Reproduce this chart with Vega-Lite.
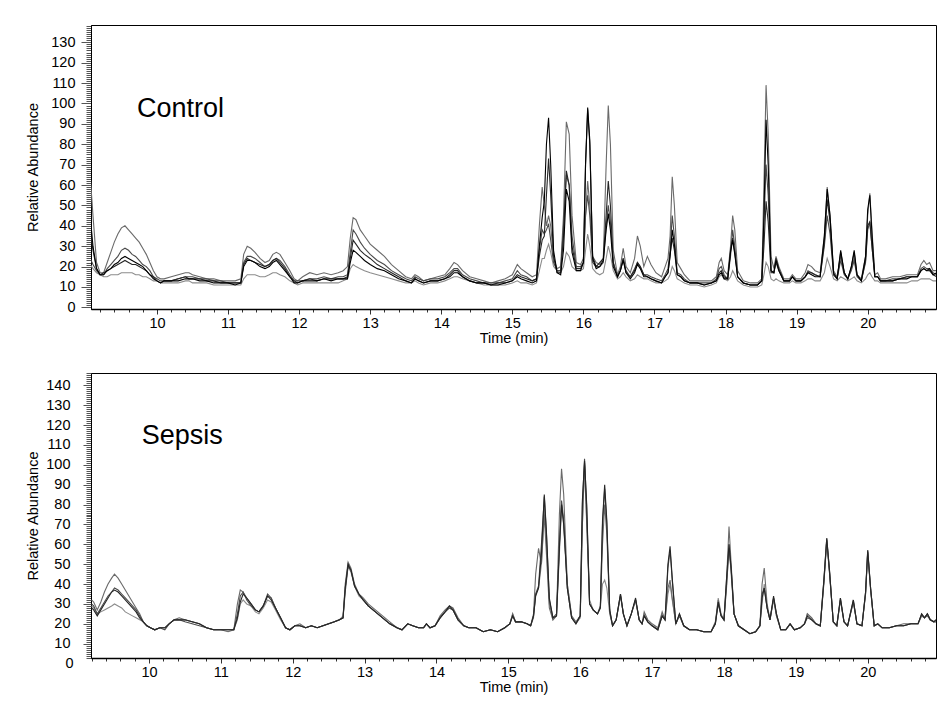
{
"$schema": "https://vega.github.io/schema/vega-lite/v6.json",
"background": "white",
"padding": {"left": 25, "top": 17, "right": 5, "bottom": 5},
"spacing": 18,
"columns": 1,
"align": "none",
"config": {
  "font": "Liberation Sans",
  "view": {"stroke": "#000", "strokeWidth": 1},
  "axis": {"domainColor": "#000", "labelColor": "#000", "titleColor": "#000", "labelFontSize": 14.5, "titleFontSize": 14.5, "titleFontWeight": "normal", "grid": false, "labelOverlap": false, "labelFlush": false, "tickColor": "#333"}
},
"concat": [
{
  "width": 845, "height": 284,
  "layer": [
    {
      "data": {"values": [
{"t":9.03,"a":23,"b":81,"c":26,"d":47,"e":60},
{"t":9.06,"a":21,"b":65,"c":24,"d":38,"e":45},
{"t":9.10,"a":19,"b":45,"c":21,"d":28,"e":30},
{"t":9.15,"a":17,"b":22,"c":18,"d":19,"e":19},
{"t":9.20,"a":16,"b":17,"c":16,"d":16,"e":16},
{"t":9.25,"a":15,"b":17,"c":16,"d":17,"e":16},
{"t":9.30,"a":15,"b":22,"c":19,"d":18,"e":18},
{"t":9.35,"a":16,"b":27,"c":21,"d":19,"e":19},
{"t":9.40,"a":16,"b":32,"c":23,"d":20,"e":21},
{"t":9.45,"a":16,"b":36,"c":25,"d":21,"e":22},
{"t":9.50,"a":17,"b":39,"c":28,"d":22,"e":24},
{"t":9.55,"a":17,"b":40,"c":29,"d":23,"e":25},
{"t":9.60,"a":17,"b":38,"c":28,"d":22,"e":24},
{"t":9.65,"a":17,"b":36,"c":26,"d":21,"e":23},
{"t":9.70,"a":16,"b":34,"c":25,"d":21,"e":22},
{"t":9.75,"a":16,"b":32,"c":23,"d":20,"e":21},
{"t":9.80,"a":15,"b":29,"c":21,"d":19,"e":20},
{"t":9.85,"a":15,"b":26,"c":20,"d":18,"e":18},
{"t":9.90,"a":14,"b":22,"c":18,"d":16,"e":16},
{"t":9.95,"a":13,"b":18,"c":15,"d":15,"e":14},
{"t":10.00,"a":13,"b":15,"c":14,"d":13,"e":13},
{"t":10.05,"a":12,"b":14,"c":13,"d":12,"e":12},
{"t":10.10,"a":12,"b":14,"c":13,"d":13,"e":13},
{"t":10.20,"a":12,"b":15,"c":13,"d":13,"e":13},
{"t":10.30,"a":12,"b":16,"c":14,"d":14,"e":13},
{"t":10.40,"a":13,"b":17,"c":15,"d":15,"e":14},
{"t":10.45,"a":13,"b":17,"c":15,"d":14,"e":14},
{"t":10.50,"a":12,"b":16,"c":15,"d":14,"e":14},
{"t":10.60,"a":12,"b":15,"c":14,"d":14,"e":13},
{"t":10.70,"a":12,"b":14,"c":14,"d":13,"e":13},
{"t":10.80,"a":11,"b":14,"c":13,"d":13,"e":12},
{"t":10.90,"a":11,"b":13,"c":13,"d":12,"e":12},
{"t":11.00,"a":11,"b":13,"c":12,"d":12,"e":12},
{"t":11.10,"a":11,"b":13,"c":12,"d":12,"e":11},
{"t":11.18,"a":11,"b":14,"c":12,"d":12,"e":12},
{"t":11.22,"a":14,"b":26,"c":22,"d":21,"e":20},
{"t":11.27,"a":16,"b":30,"c":25,"d":24,"e":23},
{"t":11.32,"a":16,"b":29,"c":25,"d":23,"e":23},
{"t":11.38,"a":16,"b":27,"c":24,"d":22,"e":22},
{"t":11.45,"a":15,"b":24,"c":22,"d":21,"e":20},
{"t":11.52,"a":15,"b":22,"c":20,"d":20,"e":19},
{"t":11.58,"a":16,"b":23,"c":21,"d":21,"e":20},
{"t":11.63,"a":17,"b":26,"c":23,"d":23,"e":22},
{"t":11.68,"a":17,"b":27,"c":24,"d":24,"e":23},
{"t":11.73,"a":16,"b":26,"c":23,"d":22,"e":21},
{"t":11.80,"a":15,"b":22,"c":20,"d":19,"e":18},
{"t":11.87,"a":13,"b":18,"c":16,"d":15,"e":15},
{"t":11.93,"a":12,"b":14,"c":13,"d":13,"e":12},
{"t":11.98,"a":11,"b":13,"c":13,"d":12,"e":12},
{"t":12.05,"a":12,"b":15,"c":13,"d":13,"e":13},
{"t":12.15,"a":12,"b":17,"c":14,"d":14,"e":13},
{"t":12.25,"a":12,"b":16,"c":14,"d":13,"e":13},
{"t":12.35,"a":12,"b":17,"c":15,"d":14,"e":14},
{"t":12.45,"a":12,"b":16,"c":14,"d":14,"e":13},
{"t":12.55,"a":12,"b":17,"c":15,"d":14,"e":14},
{"t":12.62,"a":13,"b":18,"c":15,"d":14,"e":14},
{"t":12.68,"a":14,"b":20,"c":16,"d":15,"e":14},
{"t":12.72,"a":19,"b":34,"c":27,"d":24,"e":22},
{"t":12.76,"a":21,"b":44,"c":38,"d":33,"e":28},
{"t":12.80,"a":20,"b":43,"c":36,"d":31,"e":27},
{"t":12.86,"a":19,"b":38,"c":32,"d":28,"e":25},
{"t":12.92,"a":18,"b":35,"c":29,"d":26,"e":23},
{"t":13.00,"a":17,"b":31,"c":26,"d":24,"e":21},
{"t":13.10,"a":16,"b":28,"c":23,"d":21,"e":19},
{"t":13.20,"a":15,"b":25,"c":21,"d":19,"e":18},
{"t":13.30,"a":14,"b":21,"c":18,"d":17,"e":16},
{"t":13.40,"a":13,"b":18,"c":16,"d":15,"e":14},
{"t":13.50,"a":12,"b":15,"c":14,"d":13,"e":13},
{"t":13.58,"a":12,"b":14,"c":13,"d":12,"e":12},
{"t":13.63,"a":13,"b":16,"c":15,"d":14,"e":14},
{"t":13.68,"a":12,"b":15,"c":14,"d":13,"e":13},
{"t":13.75,"a":11,"b":13,"c":13,"d":12,"e":12},
{"t":13.85,"a":12,"b":14,"c":14,"d":13,"e":13},
{"t":13.95,"a":12,"b":15,"c":14,"d":13,"e":13},
{"t":14.05,"a":13,"b":16,"c":15,"d":14,"e":14},
{"t":14.12,"a":14,"b":19,"c":17,"d":16,"e":15},
{"t":14.18,"a":15,"b":22,"c":19,"d":18,"e":17},
{"t":14.23,"a":15,"b":21,"c":19,"d":18,"e":17},
{"t":14.30,"a":14,"b":18,"c":16,"d":15,"e":15},
{"t":14.40,"a":13,"b":15,"c":14,"d":13,"e":13},
{"t":14.50,"a":12,"b":14,"c":13,"d":12,"e":12},
{"t":14.60,"a":11,"b":13,"c":12,"d":12,"e":12},
{"t":14.70,"a":11,"b":12,"c":12,"d":11,"e":11},
{"t":14.80,"a":11,"b":13,"c":12,"d":12,"e":11},
{"t":14.90,"a":11,"b":14,"c":13,"d":12,"e":12},
{"t":15.00,"a":12,"b":16,"c":14,"d":13,"e":13},
{"t":15.07,"a":13,"b":21,"c":18,"d":16,"e":15},
{"t":15.12,"a":12,"b":19,"c":16,"d":15,"e":14},
{"t":15.20,"a":12,"b":17,"c":15,"d":14,"e":13},
{"t":15.28,"a":11,"b":15,"c":13,"d":13,"e":12},
{"t":15.34,"a":12,"b":16,"c":14,"d":14,"e":13},
{"t":15.38,"a":18,"b":40,"c":28,"d":25,"e":30},
{"t":15.42,"a":24,"b":59,"c":38,"d":33,"e":44},
{"t":15.45,"a":24,"b":50,"c":36,"d":35,"e":52},
{"t":15.48,"a":28,"b":40,"c":38,"d":55,"e":80},
{"t":15.51,"a":31,"b":45,"c":41,"d":73,"e":93},
{"t":15.54,"a":27,"b":40,"c":33,"d":55,"e":70},
{"t":15.58,"a":20,"b":24,"c":22,"d":25,"e":28},
{"t":15.63,"a":18,"b":19,"c":18,"d":17,"e":17},
{"t":15.68,"a":17,"b":20,"c":18,"d":17,"e":16},
{"t":15.72,"a":20,"b":45,"c":40,"d":35,"e":28},
{"t":15.76,"a":27,"b":91,"c":65,"d":67,"e":58},
{"t":15.80,"a":25,"b":85,"c":60,"d":60,"e":52},
{"t":15.84,"a":20,"b":45,"c":35,"d":30,"e":27},
{"t":15.90,"a":18,"b":22,"c":20,"d":19,"e":18},
{"t":15.96,"a":18,"b":21,"c":20,"d":19,"e":18},
{"t":16.00,"a":19,"b":24,"c":22,"d":22,"e":22},
{"t":16.03,"a":28,"b":45,"c":45,"d":70,"e":70},
{"t":16.06,"a":36,"b":62,"c":55,"d":97,"e":98},
{"t":16.09,"a":30,"b":50,"c":45,"d":80,"e":82},
{"t":16.13,"a":19,"b":25,"c":22,"d":25,"e":24},
{"t":16.18,"a":17,"b":22,"c":20,"d":20,"e":19},
{"t":16.23,"a":16,"b":21,"c":20,"d":22,"e":20},
{"t":16.28,"a":17,"b":24,"c":22,"d":24,"e":23},
{"t":16.32,"a":24,"b":70,"c":40,"d":45,"e":38},
{"t":16.35,"a":30,"b":99,"c":50,"d":62,"e":46},
{"t":16.38,"a":26,"b":80,"c":42,"d":50,"e":38},
{"t":16.42,"a":18,"b":28,"c":22,"d":22,"e":20},
{"t":16.48,"a":14,"b":16,"c":15,"d":15,"e":15},
{"t":16.52,"a":15,"b":20,"c":18,"d":18,"e":18},
{"t":16.56,"a":17,"b":29,"c":24,"d":24,"e":23},
{"t":16.60,"a":15,"b":20,"c":18,"d":17,"e":17},
{"t":16.66,"a":13,"b":17,"c":15,"d":15,"e":14},
{"t":16.72,"a":14,"b":24,"c":19,"d":18,"e":17},
{"t":16.76,"a":16,"b":35,"c":22,"d":22,"e":21},
{"t":16.80,"a":15,"b":30,"c":20,"d":20,"e":19},
{"t":16.85,"a":14,"b":20,"c":16,"d":16,"e":15},
{"t":16.90,"a":14,"b":25,"c":16,"d":15,"e":15},
{"t":16.95,"a":13,"b":21,"c":15,"d":14,"e":14},
{"t":17.02,"a":12,"b":17,"c":14,"d":13,"e":13},
{"t":17.10,"a":12,"b":15,"c":13,"d":12,"e":12},
{"t":17.15,"a":13,"b":20,"c":16,"d":15,"e":15},
{"t":17.19,"a":14,"b":24,"c":19,"d":17,"e":17},
{"t":17.22,"a":16,"b":35,"c":28,"d":26,"e":25},
{"t":17.25,"a":20,"b":64,"c":45,"d":34,"e":38},
{"t":17.28,"a":18,"b":50,"c":35,"d":28,"e":31},
{"t":17.32,"a":14,"b":22,"c":17,"d":16,"e":16},
{"t":17.37,"a":13,"b":19,"c":16,"d":15,"e":15},
{"t":17.42,"a":12,"b":16,"c":14,"d":13,"e":13},
{"t":17.50,"a":11,"b":13,"c":12,"d":12,"e":12},
{"t":17.60,"a":11,"b":13,"c":12,"d":12,"e":12},
{"t":17.70,"a":10,"b":13,"c":12,"d":11,"e":11},
{"t":17.80,"a":11,"b":13,"c":12,"d":12,"e":12},
{"t":17.87,"a":12,"b":15,"c":14,"d":13,"e":13},
{"t":17.91,"a":15,"b":22,"c":19,"d":17,"e":16},
{"t":17.94,"a":16,"b":24,"c":20,"d":18,"e":17},
{"t":17.98,"a":14,"b":18,"c":16,"d":15,"e":14},
{"t":18.03,"a":13,"b":16,"c":14,"d":14,"e":14},
{"t":18.07,"a":15,"b":30,"c":25,"d":28,"e":27},
{"t":18.10,"a":18,"b":45,"c":38,"d":34,"e":33},
{"t":18.13,"a":16,"b":38,"c":30,"d":27,"e":26},
{"t":18.17,"a":13,"b":18,"c":15,"d":15,"e":15},
{"t":18.25,"a":11,"b":13,"c":12,"d":12,"e":12},
{"t":18.35,"a":10,"b":12,"c":11,"d":11,"e":11},
{"t":18.45,"a":10,"b":12,"c":11,"d":11,"e":11},
{"t":18.51,"a":11,"b":14,"c":13,"d":13,"e":13},
{"t":18.54,"a":16,"b":60,"c":40,"d":30,"e":45},
{"t":18.57,"a":22,"b":109,"c":70,"d":52,"e":92},
{"t":18.60,"a":20,"b":85,"c":55,"d":42,"e":70},
{"t":18.64,"a":14,"b":25,"c":18,"d":17,"e":18},
{"t":18.68,"a":13,"b":19,"c":17,"d":17,"e":17},
{"t":18.71,"a":14,"b":25,"c":22,"d":24,"e":23},
{"t":18.75,"a":13,"b":20,"c":18,"d":19,"e":18},
{"t":18.82,"a":12,"b":14,"c":13,"d":13,"e":13},
{"t":18.90,"a":12,"b":14,"c":13,"d":13,"e":13},
{"t":18.94,"a":13,"b":16,"c":15,"d":15,"e":15},
{"t":18.99,"a":12,"b":14,"c":13,"d":13,"e":13},
{"t":19.06,"a":12,"b":14,"c":13,"d":13,"e":13},
{"t":19.12,"a":13,"b":17,"c":15,"d":15,"e":15},
{"t":19.16,"a":14,"b":21,"c":18,"d":17,"e":17},
{"t":19.21,"a":14,"b":20,"c":17,"d":17,"e":16},
{"t":19.26,"a":13,"b":18,"c":16,"d":16,"e":15},
{"t":19.33,"a":13,"b":17,"c":15,"d":15,"e":15},
{"t":19.39,"a":17,"b":35,"c":30,"d":32,"e":35},
{"t":19.43,"a":24,"b":59,"c":45,"d":53,"e":58},
{"t":19.47,"a":20,"b":45,"c":36,"d":42,"e":45},
{"t":19.52,"a":14,"b":18,"c":16,"d":16,"e":17},
{"t":19.57,"a":13,"b":15,"c":14,"d":14,"e":14},
{"t":19.62,"a":15,"b":25,"c":23,"d":27,"e":28},
{"t":19.67,"a":14,"b":17,"c":16,"d":17,"e":17},
{"t":19.72,"a":13,"b":14,"c":14,"d":14,"e":14},
{"t":19.77,"a":14,"b":19,"c":18,"d":20,"e":20},
{"t":19.81,"a":15,"b":24,"c":23,"d":27,"e":28},
{"t":19.85,"a":13,"b":16,"c":15,"d":16,"e":16},
{"t":19.91,"a":12,"b":14,"c":13,"d":13,"e":13},
{"t":19.97,"a":14,"b":25,"c":22,"d":23,"e":25},
{"t":20.00,"a":16,"b":45,"c":38,"d":40,"e":48},
{"t":20.03,"a":17,"b":56,"c":42,"d":42,"e":55},
{"t":20.06,"a":15,"b":38,"c":30,"d":30,"e":36},
{"t":20.10,"a":13,"b":16,"c":15,"d":15,"e":15},
{"t":20.14,"a":13,"b":17,"c":15,"d":15,"e":15},
{"t":20.18,"a":12,"b":14,"c":13,"d":13,"e":13},
{"t":20.25,"a":12,"b":14,"c":13,"d":13,"e":13},
{"t":20.35,"a":12,"b":15,"c":14,"d":13,"e":13},
{"t":20.45,"a":12,"b":15,"c":14,"d":14,"e":14},
{"t":20.55,"a":12,"b":16,"c":15,"d":15,"e":14},
{"t":20.62,"a":13,"b":16,"c":15,"d":15,"e":15},
{"t":20.70,"a":13,"b":16,"c":15,"d":15,"e":15},
{"t":20.75,"a":14,"b":21,"c":19,"d":18,"e":18},
{"t":20.79,"a":14,"b":23,"c":20,"d":19,"e":19},
{"t":20.83,"a":14,"b":21,"c":19,"d":18,"e":18},
{"t":20.87,"a":14,"b":22,"c":19,"d":18,"e":19},
{"t":20.92,"a":13,"b":18,"c":17,"d":16,"e":16},
{"t":20.97,"a":13,"b":18,"c":16,"d":15,"e":17}
      ]},
      "transform": [{"fold": ["a", "b", "c", "d", "e"], "as": ["s", "v"]}],
      "mark": {"type": "line", "strokeWidth": 1.1, "clip": true},
      "encoding": {
        "x": {"field": "t", "type": "quantitative",
          "scale": {"domain": [9.072, 20.961], "nice": false, "zero": false},
          "axis": {"title": "Time (min)", "tickCount": 60, "labelExpr": "datum.value % 1 === 0 ? format(datum.value, 'd') : ''",
            "tickSize": {"condition": {"test": "datum.value % 1 === 0", "value": 5}, "value": 3},
            "labelPadding": 2, "titlePadding": 2, "domainWidth": 1.5}},
        "y": {"field": "v", "type": "quantitative",
          "scale": {"domain": [-0.8, 138.5], "nice": false, "zero": false},
          "axis": {"title": "Relative Abundance", "tickCount": 140, "labelExpr": "datum.value % 10 === 0 ? datum.label : ''",
            "tickSize": {"condition": {"test": "datum.value % 10 === 0", "value": 10}, "value": 5},
            "labelPadding": 6, "titlePadding": 10, "tickColor": "#555"}},
        "color": {"field": "s", "type": "nominal",
          "scale": {"domain": ["a", "b", "c", "d", "e"], "range": ["#8c8c8c", "#6a6a6a", "#4a4a4a", "#262626", "#000000"]},
          "legend": null}
      }
    },
    {
      "data": {"values": [{"label": "Control"}]},
      "mark": {"type": "text", "fontSize": 27, "align": "left", "baseline": "alphabetic", "color": "#000"},
      "encoding": {
        "x": {"datum": 9.72, "type": "quantitative"},
        "y": {"datum": 93.4, "type": "quantitative"},
        "text": {"field": "label"}
      }
    }
  ]
},
{
  "width": 845, "height": 285,
  "layer": [
    {
      "data": {"values": [
{"t":9.20,"a":29,"b":32,"c":30,"d":28},
{"t":9.23,"a":28,"b":31,"c":29,"d":27},
{"t":9.28,"a":25,"b":27,"c":25,"d":24},
{"t":9.33,"a":26,"b":31,"c":28,"d":27},
{"t":9.38,"a":27,"b":36,"c":31,"d":30},
{"t":9.43,"a":28,"b":40,"c":34,"d":33},
{"t":9.48,"a":29,"b":43,"c":36,"d":36},
{"t":9.52,"a":30,"b":45,"c":38,"d":37},
{"t":9.57,"a":29,"b":43,"c":37,"d":36},
{"t":9.62,"a":28,"b":40,"c":35,"d":34},
{"t":9.67,"a":26,"b":37,"c":33,"d":32},
{"t":9.72,"a":25,"b":34,"c":31,"d":30},
{"t":9.77,"a":24,"b":31,"c":29,"d":28},
{"t":9.82,"a":23,"b":28,"c":27,"d":26},
{"t":9.87,"a":22,"b":25,"c":24,"d":23},
{"t":9.92,"a":21,"b":21,"c":21,"d":21},
{"t":9.97,"a":19,"b":19,"c":19,"d":19},
{"t":10.02,"a":18,"b":18,"c":18,"d":18},
{"t":10.08,"a":17,"b":17,"c":17,"d":17},
{"t":10.15,"a":18,"b":18,"c":18,"d":18},
{"t":10.22,"a":18,"b":18,"c":17,"d":18},
{"t":10.28,"a":20,"b":20,"c":20,"d":20},
{"t":10.35,"a":22,"b":22,"c":22,"d":22},
{"t":10.42,"a":22,"b":23,"c":22,"d":22},
{"t":10.50,"a":22,"b":22,"c":21,"d":22},
{"t":10.60,"a":21,"b":21,"c":20,"d":21},
{"t":10.70,"a":20,"b":20,"c":19,"d":20},
{"t":10.80,"a":18,"b":18,"c":18,"d":18},
{"t":10.90,"a":17,"b":17,"c":17,"d":17},
{"t":11.00,"a":17,"b":17,"c":17,"d":17},
{"t":11.10,"a":17,"b":16,"c":17,"d":17},
{"t":11.18,"a":17,"b":17,"c":17,"d":17},
{"t":11.23,"a":22,"b":30,"c":25,"d":23},
{"t":11.27,"a":30,"b":37,"c":34,"d":31},
{"t":11.31,"a":32,"b":36,"c":36,"d":35},
{"t":11.36,"a":30,"b":33,"c":32,"d":33},
{"t":11.42,"a":29,"b":30,"c":29,"d":30},
{"t":11.48,"a":26,"b":27,"c":27,"d":27},
{"t":11.53,"a":25,"b":26,"c":26,"d":26},
{"t":11.59,"a":28,"b":29,"c":29,"d":29},
{"t":11.65,"a":32,"b":34,"c":35,"d":34},
{"t":11.70,"a":31,"b":33,"c":33,"d":32},
{"t":11.76,"a":27,"b":28,"c":28,"d":28},
{"t":11.83,"a":22,"b":23,"c":23,"d":23},
{"t":11.90,"a":18,"b":18,"c":18,"d":18},
{"t":11.96,"a":17,"b":17,"c":17,"d":17},
{"t":12.03,"a":19,"b":19,"c":19,"d":19},
{"t":12.10,"a":19,"b":20,"c":19,"d":19},
{"t":12.18,"a":18,"b":18,"c":18,"d":18},
{"t":12.26,"a":19,"b":19,"c":19,"d":19},
{"t":12.34,"a":18,"b":18,"c":18,"d":18},
{"t":12.42,"a":19,"b":19,"c":19,"d":19},
{"t":12.50,"a":20,"b":20,"c":20,"d":20},
{"t":12.58,"a":21,"b":21,"c":21,"d":21},
{"t":12.65,"a":22,"b":22,"c":22,"d":22},
{"t":12.70,"a":24,"b":23,"c":23,"d":23},
{"t":12.73,"a":38,"b":40,"c":36,"d":38},
{"t":12.77,"a":49,"b":51,"c":49,"d":50},
{"t":12.81,"a":46,"b":48,"c":47,"d":47},
{"t":12.86,"a":39,"b":40,"c":39,"d":39},
{"t":12.92,"a":34,"b":35,"c":35,"d":35},
{"t":12.98,"a":32,"b":33,"c":32,"d":32},
{"t":13.05,"a":29,"b":30,"c":29,"d":29},
{"t":13.15,"a":26,"b":27,"c":26,"d":26},
{"t":13.25,"a":23,"b":24,"c":23,"d":23},
{"t":13.35,"a":20,"b":21,"c":20,"d":20},
{"t":13.45,"a":18,"b":18,"c":18,"d":18},
{"t":13.52,"a":17,"b":17,"c":17,"d":17},
{"t":13.60,"a":20,"b":20,"c":20,"d":20},
{"t":13.67,"a":19,"b":19,"c":19,"d":19},
{"t":13.75,"a":18,"b":18,"c":18,"d":18},
{"t":13.82,"a":18,"b":18,"c":18,"d":18},
{"t":13.86,"a":20,"b":20,"c":20,"d":20},
{"t":13.91,"a":18,"b":18,"c":18,"d":18},
{"t":13.98,"a":19,"b":19,"c":19,"d":19},
{"t":14.05,"a":23,"b":24,"c":23,"d":23},
{"t":14.12,"a":26,"b":27,"c":26,"d":26},
{"t":14.18,"a":28,"b":29,"c":28,"d":29},
{"t":14.23,"a":27,"b":28,"c":27,"d":27},
{"t":14.30,"a":22,"b":23,"c":22,"d":22},
{"t":14.38,"a":19,"b":19,"c":19,"d":19},
{"t":14.45,"a":18,"b":18,"c":18,"d":18},
{"t":14.55,"a":18,"b":18,"c":18,"d":18},
{"t":14.65,"a":16,"b":16,"c":16,"d":16},
{"t":14.75,"a":17,"b":17,"c":17,"d":17},
{"t":14.85,"a":16,"b":16,"c":16,"d":16},
{"t":14.95,"a":18,"b":18,"c":18,"d":18},
{"t":15.02,"a":20,"b":20,"c":20,"d":20},
{"t":15.06,"a":25,"b":25,"c":24,"d":24},
{"t":15.10,"a":21,"b":21,"c":21,"d":21},
{"t":15.18,"a":21,"b":21,"c":21,"d":21},
{"t":15.26,"a":20,"b":20,"c":20,"d":20},
{"t":15.31,"a":19,"b":19,"c":19,"d":19},
{"t":15.35,"a":23,"b":25,"c":24,"d":24},
{"t":15.38,"a":35,"b":45,"c":35,"d":34},
{"t":15.42,"a":38,"b":58,"c":39,"d":38},
{"t":15.46,"a":50,"b":50,"c":60,"d":55},
{"t":15.50,"a":78,"b":75,"c":84,"d":85},
{"t":15.53,"a":60,"b":55,"c":65,"d":66},
{"t":15.57,"a":30,"b":28,"c":32,"d":33},
{"t":15.62,"a":22,"b":22,"c":23,"d":23},
{"t":15.67,"a":24,"b":24,"c":25,"d":24},
{"t":15.71,"a":55,"b":75,"c":60,"d":58},
{"t":15.74,"a":80,"b":98,"c":82,"d":80},
{"t":15.77,"a":70,"b":85,"c":72,"d":70},
{"t":15.82,"a":40,"b":40,"c":38,"d":38},
{"t":15.88,"a":24,"b":24,"c":23,"d":23},
{"t":15.94,"a":20,"b":21,"c":20,"d":20},
{"t":16.00,"a":23,"b":24,"c":24,"d":24},
{"t":16.03,"a":70,"b":70,"c":80,"d":82},
{"t":16.06,"a":100,"b":101,"c":103,"d":102},
{"t":16.09,"a":70,"b":72,"c":78,"d":80},
{"t":16.13,"a":32,"b":30,"c":30,"d":30},
{"t":16.18,"a":27,"b":27,"c":27,"d":27},
{"t":16.24,"a":25,"b":25,"c":25,"d":25},
{"t":16.28,"a":28,"b":28,"c":29,"d":28},
{"t":16.31,"a":40,"b":60,"c":70,"d":72},
{"t":16.34,"a":42,"b":80,"c":88,"d":90},
{"t":16.37,"a":38,"b":65,"c":70,"d":72},
{"t":16.41,"a":25,"b":26,"c":27,"d":27},
{"t":16.45,"a":19,"b":19,"c":19,"d":19},
{"t":16.50,"a":22,"b":22,"c":22,"d":22},
{"t":16.56,"a":34,"b":34,"c":35,"d":35},
{"t":16.60,"a":25,"b":25,"c":25,"d":25},
{"t":16.65,"a":19,"b":19,"c":19,"d":19},
{"t":16.71,"a":25,"b":25,"c":25,"d":25},
{"t":16.77,"a":32,"b":32,"c":32,"d":33},
{"t":16.82,"a":22,"b":22,"c":22,"d":22},
{"t":16.86,"a":20,"b":20,"c":20,"d":20},
{"t":16.89,"a":25,"b":26,"c":24,"d":24},
{"t":16.94,"a":21,"b":22,"c":21,"d":21},
{"t":17.00,"a":19,"b":20,"c":19,"d":19},
{"t":17.08,"a":17,"b":18,"c":17,"d":17},
{"t":17.14,"a":25,"b":26,"c":24,"d":24},
{"t":17.18,"a":22,"b":22,"c":22,"d":22},
{"t":17.22,"a":35,"b":38,"c":48,"d":50},
{"t":17.25,"a":40,"b":42,"c":57,"d":59},
{"t":17.28,"a":32,"b":33,"c":42,"d":43},
{"t":17.33,"a":20,"b":20,"c":20,"d":20},
{"t":17.38,"a":24,"b":24,"c":25,"d":25},
{"t":17.44,"a":19,"b":19,"c":19,"d":19},
{"t":17.52,"a":17,"b":17,"c":17,"d":17},
{"t":17.62,"a":17,"b":17,"c":17,"d":17},
{"t":17.72,"a":16,"b":16,"c":16,"d":16},
{"t":17.82,"a":16,"b":16,"c":16,"d":16},
{"t":17.88,"a":20,"b":21,"c":20,"d":20},
{"t":17.92,"a":33,"b":32,"c":30,"d":31},
{"t":17.96,"a":25,"b":24,"c":24,"d":24},
{"t":18.00,"a":22,"b":22,"c":22,"d":22},
{"t":18.04,"a":40,"b":45,"c":42,"d":45},
{"t":18.07,"a":60,"b":69,"c":58,"d":60},
{"t":18.10,"a":45,"b":50,"c":47,"d":48},
{"t":18.14,"a":25,"b":25,"c":25,"d":25},
{"t":18.20,"a":19,"b":19,"c":19,"d":19},
{"t":18.28,"a":17,"b":17,"c":17,"d":17},
{"t":18.36,"a":15,"b":15,"c":15,"d":15},
{"t":18.44,"a":16,"b":16,"c":16,"d":16},
{"t":18.50,"a":19,"b":19,"c":19,"d":19},
{"t":18.53,"a":30,"b":40,"c":35,"d":33},
{"t":18.56,"a":40,"b":48,"c":38,"d":38},
{"t":18.60,"a":28,"b":30,"c":28,"d":28},
{"t":18.64,"a":22,"b":22,"c":22,"d":22},
{"t":18.69,"a":32,"b":33,"c":33,"d":34},
{"t":18.73,"a":24,"b":24,"c":25,"d":25},
{"t":18.79,"a":17,"b":17,"c":17,"d":17},
{"t":18.86,"a":17,"b":17,"c":17,"d":17},
{"t":18.92,"a":20,"b":20,"c":20,"d":20},
{"t":18.98,"a":17,"b":17,"c":17,"d":17},
{"t":19.06,"a":18,"b":18,"c":18,"d":18},
{"t":19.12,"a":20,"b":20,"c":20,"d":20},
{"t":19.16,"a":25,"b":25,"c":23,"d":24},
{"t":19.22,"a":23,"b":23,"c":22,"d":22},
{"t":19.28,"a":20,"b":20,"c":20,"d":20},
{"t":19.34,"a":19,"b":19,"c":19,"d":19},
{"t":19.39,"a":40,"b":42,"c":41,"d":42},
{"t":19.43,"a":62,"b":63,"c":62,"d":63},
{"t":19.47,"a":45,"b":46,"c":45,"d":46},
{"t":19.52,"a":21,"b":21,"c":21,"d":21},
{"t":19.57,"a":19,"b":19,"c":19,"d":19},
{"t":19.62,"a":32,"b":33,"c":32,"d":33},
{"t":19.67,"a":21,"b":21,"c":21,"d":21},
{"t":19.72,"a":19,"b":19,"c":19,"d":19},
{"t":19.80,"a":31,"b":32,"c":31,"d":32},
{"t":19.85,"a":20,"b":20,"c":20,"d":20},
{"t":19.92,"a":19,"b":19,"c":19,"d":19},
{"t":19.97,"a":35,"b":36,"c":35,"d":36},
{"t":20.00,"a":56,"b":57,"c":56,"d":57},
{"t":20.04,"a":38,"b":38,"c":37,"d":38},
{"t":20.09,"a":19,"b":19,"c":19,"d":19},
{"t":20.14,"a":20,"b":20,"c":20,"d":20},
{"t":20.20,"a":18,"b":18,"c":18,"d":18},
{"t":20.30,"a":18,"b":18,"c":18,"d":18},
{"t":20.40,"a":19,"b":19,"c":19,"d":19},
{"t":20.50,"a":19,"b":20,"c":19,"d":19},
{"t":20.60,"a":20,"b":20,"c":20,"d":20},
{"t":20.70,"a":20,"b":20,"c":20,"d":20},
{"t":20.75,"a":24,"b":24,"c":25,"d":25},
{"t":20.79,"a":23,"b":23,"c":23,"d":23},
{"t":20.83,"a":25,"b":24,"c":25,"d":25},
{"t":20.87,"a":22,"b":22,"c":22,"d":22},
{"t":20.92,"a":21,"b":21,"c":21,"d":21},
{"t":20.95,"a":22,"b":22,"c":21,"d":22}
      ]},
      "transform": [{"fold": ["a", "b", "c", "d"], "as": ["s", "v"]}],
      "mark": {"type": "line", "strokeWidth": 1.1, "clip": true},
      "encoding": {
        "x": {"field": "t", "type": "quantitative",
          "scale": {"domain": [9.193, 20.95], "nice": false, "zero": false},
          "axis": {"title": "Time (min)", "tickCount": 60, "labelExpr": "datum.value % 1 === 0 ? format(datum.value, 'd') : ''",
            "tickSize": {"condition": {"test": "datum.value % 1 === 0", "value": 5}, "value": 3},
            "labelPadding": 2, "titlePadding": 2, "domainWidth": 1.5}},
        "y": {"field": "v", "type": "quantitative",
          "scale": {"domain": [2.8, 146.2], "nice": false, "zero": false},
          "axis": {"title": "Relative Abundance", "tickCount": 145,
            "labelExpr": "datum.value === 3 ? '0' : (datum.value % 10 === 0 ? datum.label : '')",
            "labelOffset": {"condition": {"test": "datum.value === 3", "value": 6}, "value": 0},
            "tickSize": {"condition": {"test": "datum.value % 10 === 0", "value": 8}, "value": 5},
            "labelPadding": 13, "titlePadding": 5, "tickColor": "#555"}},
        "color": {"field": "s", "type": "nominal",
          "scale": {"domain": ["a", "b", "c", "d"], "range": ["#8c8c8c", "#6e6e6e", "#3c3c3c", "#000000"]},
          "legend": null}
      }
    },
    {
      "data": {"values": [{"label": "Sepsis"}]},
      "mark": {"type": "text", "fontSize": 27, "align": "left", "baseline": "alphabetic", "color": "#000"},
      "encoding": {
        "x": {"datum": 9.90, "type": "quantitative"},
        "y": {"datum": 110.5, "type": "quantitative"},
        "text": {"field": "label"}
      }
    }
  ]
}
]
}
